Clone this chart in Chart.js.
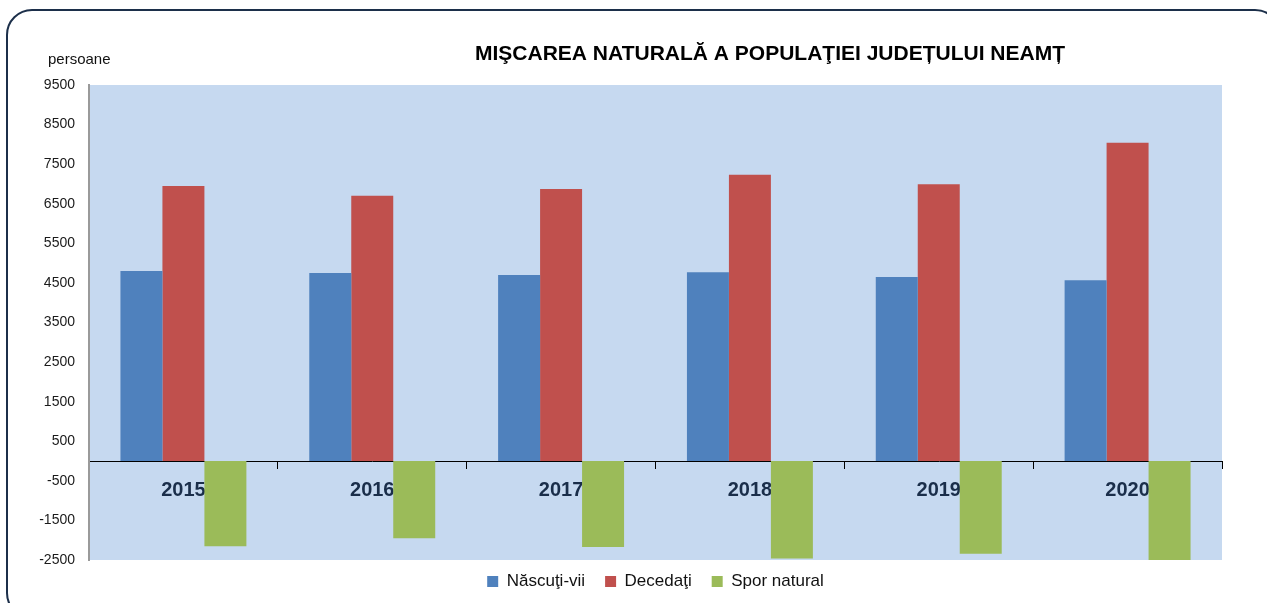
<!DOCTYPE html>
<html>
<head>
<meta charset="utf-8">
<script src="https://cdn.jsdelivr.net/npm/chart.js@4/dist/chart.umd.min.js"></script>
<style>
    html, body { margin: 0; padding: 0; background: #fff; overflow: hidden; }
    #wrap { position: relative; width: 1267px; height: 603px; }
    #frame {
        position: absolute; left: 6px; top: 9px; width: 1275px; height: 610px;
        border: 2px solid #1c2f4a; border-radius: 26px; box-sizing: border-box;
    }
    #chart { position: absolute; left: 0; top: 0; }
</style>
</head>
<body>
<div id="wrap">
    <div id="frame"></div>
    <canvas id="chart" width="1267" height="603"></canvas>
</div>
<script>
// Mişcarea naturală a populaţiei - judeţul Neamţ
const years = ['2015', '2016', '2017', '2018', '2019', '2020'];
const nascuti = [4800, 4750, 4700, 4770, 4650, 4570];
const decedati = [6950, 6700, 6870, 7230, 6990, 8040];
const spor = [-2150, -1950, -2170, -2460, -2340, -3470];

const yMin = -2500;
const yMax = 9500;
const yStep = 1000;

const FONT = '"Liberation Sans", Arial, sans-serif';

// fundal zona graficului + texte fixe
const backdrop = {
    id: 'backdrop',
    afterLayout(chart) {
        // legenda putin mai sus, ca in original
        if (chart.legend) {
            chart.legend.top -= 7;
            chart.legend.bottom -= 7;
        }
    },
    beforeDraw(chart) {
        const { ctx, chartArea: a } = chart;
        ctx.save();
        ctx.fillStyle = '#C6D9F0';
        ctx.fillRect(a.left, a.top, a.right - a.left, a.bottom - a.top);
        ctx.restore();
    },
    afterDraw(chart) {
        const ctx = chart.ctx;
        ctx.save();
        ctx.fillStyle = '#111';
        ctx.textBaseline = 'middle';
        ctx.font = '15px ' + FONT;
        ctx.textAlign = 'left';
        ctx.fillText('persoane', 48, 60);
        ctx.font = 'bold 21px ' + FONT;
        ctx.textAlign = 'center';
        ctx.fillStyle = '#000';
        ctx.fillText('MIŞCAREA NATURALĂ A POPULAŢIEI JUDEȚULUI NEAMȚ', 770, 54);
        ctx.restore();
    }
};

new Chart(document.getElementById('chart'), {
    type: 'bar',
    data: {
        labels: years,
        datasets: [
            { label: 'Născuţi-vii', data: nascuti, backgroundColor: '#4F81BD', borderWidth: 0 },
            { label: 'Decedaţi', data: decedati, backgroundColor: '#C0504D', borderWidth: 0 },
            { label: 'Spor natural', data: spor, backgroundColor: '#9BBB59', borderWidth: 0 }
        ]
    },
    options: {
        responsive: false,
        animation: false,
        categoryPercentage: 0.667,
        barPercentage: 1.0,
        layout: { padding: { left: 0, right: 45, top: 85, bottom: -4 } },
        plugins: {
            legend: {
                position: 'bottom',
                fullSize: false,
                labels: {
                    color: '#111',
                    font: { family: FONT, size: 17 },
                    boxWidth: 11,
                    boxHeight: 11,
                    padding: 20
                }
            },
            tooltip: { enabled: false }
        },
        scales: {
            x: {
                position: { y: 0 },
                grid: {
                    offset: true,
                    drawOnChartArea: false,
                    drawTicks: true,
                    tickLength: 7,
                    color: '#000'
                },
                border: { display: true, color: '#000', width: 1 },
                ticks: {
                    color: '#1a2e4a',
                    font: { family: FONT, size: 20, weight: 'bold' },
                    padding: 10
                }
            },
            y: {
                min: yMin,
                max: yMax,
                afterFit(scale) { scale.width = 89; },
                grid: { drawOnChartArea: false, drawTicks: false },
                border: { display: true, color: '#9a9a9a', width: 2 },
                ticks: {
                    stepSize: yStep,
                    color: '#1a1a1a',
                    font: { family: FONT, size: 14 },
                    padding: 14,
                    callback: (v) => String(v)
                }
            }
        }
    },
    plugins: [backdrop]
});
</script>
</body>
</html>
